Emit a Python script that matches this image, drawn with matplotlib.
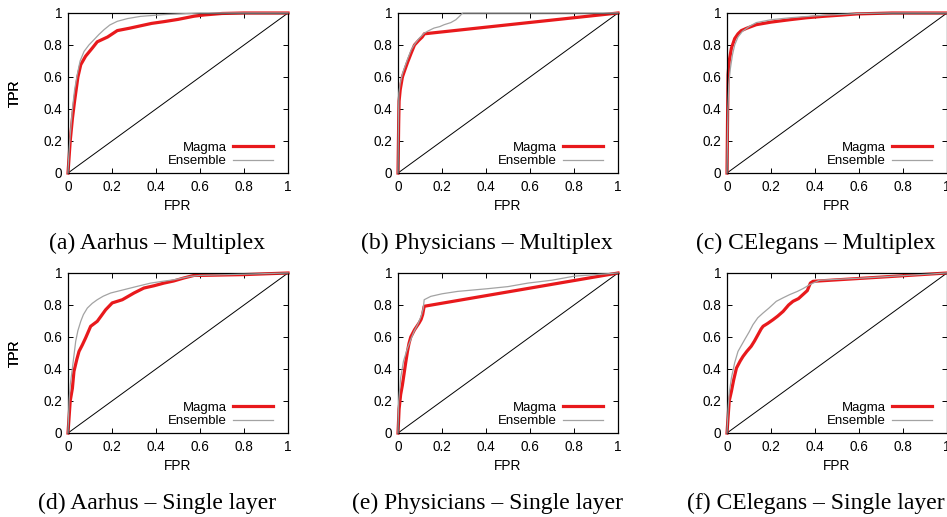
import matplotlib
matplotlib.use("Agg")
import matplotlib.pyplot as plt
from matplotlib.ticker import FuncFormatter

# ---------------- data ----------------
captions = ["(a) Aarhus \u2013 Multiplex", "(b) Physicians \u2013 Multiplex", "(c) CElegans \u2013 Multiplex",
            "(d) Aarhus \u2013 Single layer", "(e) Physicians \u2013 Single layer", "(f) CElegans \u2013 Single layer"]
series_names = ["Magma", "Ensemble"]
tick_values = [0, 0.2, 0.4, 0.6, 0.8, 1]

a_magma_fpr = [0, 0.005, 0.01, 0.02, 0.03, 0.045, 0.058, 0.08, 0.11, 0.133, 0.18, 0.224, 0.28, 0.33, 0.38, 0.436, 0.5, 0.573, 0.62, 0.7, 0.8, 1.0]
a_magma_tpr = [0, 0.1, 0.2, 0.34, 0.45, 0.6, 0.677, 0.73, 0.78, 0.82, 0.85, 0.89, 0.905, 0.92, 0.935, 0.946, 0.96, 0.98, 0.988, 0.997, 1.0, 1.0]
a_ens_fpr = [0, 0.004, 0.008, 0.02, 0.03, 0.042, 0.055, 0.073, 0.095, 0.118, 0.14, 0.164, 0.19, 0.224, 0.27, 0.33, 0.436, 0.5, 0.6, 1.0]
a_ens_tpr = [0, 0.12, 0.2, 0.4, 0.52, 0.615, 0.7, 0.76, 0.8, 0.833, 0.865, 0.896, 0.925, 0.948, 0.965, 0.979, 0.99, 0.994, 1.0, 1.0]

b_magma_fpr = [0, 0.003, 0.005, 0.01, 0.02, 0.03, 0.043, 0.06, 0.075, 0.095, 0.11, 0.12, 1.0]
b_magma_tpr = [0, 0.3, 0.45, 0.52, 0.6, 0.64, 0.69, 0.75, 0.8, 0.83, 0.85, 0.87, 1.0]
b_ens_fpr = [0, 0.002, 0.004, 0.01, 0.02, 0.03, 0.043, 0.06, 0.073, 0.095, 0.12, 0.14, 0.164, 0.19, 0.21, 0.24, 0.263, 0.28, 0.294, 1.0]
b_ens_tpr = [0, 0.3, 0.5, 0.56, 0.62, 0.66, 0.71, 0.77, 0.8, 0.84, 0.875, 0.89, 0.906, 0.915, 0.927, 0.94, 0.958, 0.98, 1.0, 1.0]

c_magma_fpr = [0, 0.003, 0.005, 0.01, 0.02, 0.035, 0.05, 0.065, 0.09, 0.133, 0.2, 0.285, 0.36, 0.436, 0.52, 0.588, 0.75, 1.0]
c_magma_tpr = [0, 0.4, 0.615, 0.7, 0.78, 0.84, 0.87, 0.89, 0.905, 0.927, 0.943, 0.958, 0.97, 0.979, 0.987, 0.994, 1.0, 1.0]
c_ens_fpr = [0, 0.004, 0.008, 0.015, 0.025, 0.035, 0.05, 0.07, 0.1, 0.133, 0.2, 0.285, 0.36, 0.436, 0.6, 0.75, 1.0]
c_ens_tpr = [0, 0.4, 0.55, 0.65, 0.74, 0.8, 0.85, 0.885, 0.915, 0.94, 0.958, 0.97, 0.978, 0.985, 0.997, 1.0, 1.0]

d_magma_fpr = [0, 0.005, 0.01, 0.02, 0.027, 0.04, 0.05, 0.065, 0.08, 0.103, 0.133, 0.15, 0.171, 0.201, 0.247, 0.3, 0.345, 0.39, 0.436, 0.48, 0.527, 0.573, 0.6, 0.8, 1.0]
d_magma_tpr = [0, 0.1, 0.2, 0.28, 0.385, 0.46, 0.51, 0.55, 0.594, 0.667, 0.698, 0.73, 0.77, 0.813, 0.833, 0.875, 0.906, 0.92, 0.937, 0.95, 0.969, 0.985, 0.985, 0.99, 1.0]
d_ens_fpr = [0, 0.005, 0.01, 0.02, 0.035, 0.045, 0.058, 0.07, 0.088, 0.11, 0.133, 0.16, 0.194, 0.255, 0.31, 0.376, 0.43, 0.482, 0.558, 0.6, 1.0]
d_ens_tpr = [0, 0.2, 0.3, 0.406, 0.573, 0.64, 0.698, 0.74, 0.781, 0.81, 0.833, 0.855, 0.875, 0.896, 0.915, 0.937, 0.948, 0.958, 0.979, 0.985, 1.0]

e_magma_fpr = [0, 0.005, 0.012, 0.02, 0.027, 0.035, 0.043, 0.05, 0.058, 0.075, 0.096, 0.105, 0.112, 0.119, 1.0]
e_magma_tpr = [0, 0.15, 0.24, 0.3, 0.365, 0.44, 0.51, 0.56, 0.6, 0.645, 0.688, 0.71, 0.74, 0.792, 1.0]
e_ens_fpr = [0, 0.003, 0.012, 0.025, 0.043, 0.06, 0.073, 0.09, 0.105, 0.115, 0.119, 0.149, 0.2, 0.271, 0.408, 0.5, 0.591, 0.7, 0.8, 0.9, 1.0]
e_ens_tpr = [0, 0.2, 0.344, 0.45, 0.53, 0.59, 0.635, 0.68, 0.73, 0.78, 0.833, 0.854, 0.87, 0.885, 0.902, 0.915, 0.937, 0.955, 0.98, 0.99, 1.0]

f_magma_fpr = [0, 0.005, 0.01, 0.02, 0.03, 0.043, 0.06, 0.073, 0.09, 0.11, 0.125, 0.141, 0.155, 0.164, 0.185, 0.209, 0.23, 0.255, 0.28, 0.3, 0.325, 0.345, 0.365, 0.379, 0.391, 1.0]
f_magma_tpr = [0, 0.1, 0.2, 0.26, 0.33, 0.406, 0.45, 0.479, 0.51, 0.542, 0.575, 0.615, 0.65, 0.667, 0.685, 0.708, 0.73, 0.76, 0.8, 0.823, 0.84, 0.865, 0.89, 0.937, 0.948, 1.0]
f_ens_fpr = [0, 0.005, 0.01, 0.02, 0.035, 0.05, 0.08, 0.1, 0.118, 0.14, 0.164, 0.19, 0.224, 0.255, 0.285, 0.32, 0.345, 0.376, 0.42, 0.6, 1.0]
f_ens_tpr = [0, 0.15, 0.25, 0.344, 0.44, 0.51, 0.583, 0.63, 0.677, 0.72, 0.75, 0.78, 0.823, 0.845, 0.865, 0.885, 0.902, 0.927, 0.955, 0.967, 1.0]

panels = [
    (a_magma_fpr, a_magma_tpr, a_ens_fpr, a_ens_tpr),
    (b_magma_fpr, b_magma_tpr, b_ens_fpr, b_ens_tpr),
    (c_magma_fpr, c_magma_tpr, c_ens_fpr, c_ens_tpr),
    (d_magma_fpr, d_magma_tpr, d_ens_fpr, d_ens_tpr),
    (e_magma_fpr, e_magma_tpr, e_ens_fpr, e_ens_tpr),
    (f_magma_fpr, f_magma_tpr, f_ens_fpr, f_ens_tpr),
]

# ---------------- style ----------------
W, H = 947, 517
RED = "#e8191c"
GRAY = "#a3a3a3"
SANS = "Liberation Sans"
SERIF = "Liberation Serif"

fig = plt.figure(figsize=(W / 100, H / 100), dpi=100)

lefts = [68, 398, 727]
tops = [13, 273]
aw, ah = 220, 160

for i, (mf, mt, ef, et) in enumerate(panels):
    r, c = divmod(i, 3)
    left = lefts[c]
    top = tops[r]
    ax = fig.add_axes([left / W, (H - top - ah) / H, aw / W, ah / H])
    ax.plot([0, 1], [0, 1], color="black", lw=0.7, zorder=1)
    ax.plot(mf, mt, color=RED, lw=2.3, label=series_names[0], zorder=2, clip_on=False,
            solid_joinstyle="round")
    ax.plot(ef, et, color=GRAY, lw=0.9, label=series_names[1], zorder=3, clip_on=False)
    ax.set_xlim(0, 1)
    ax.set_ylim(0, 1)
    ax.set_xticks(tick_values)
    ax.set_yticks(tick_values)
    fmt = FuncFormatter(lambda v, p: "%g" % v)
    ax.xaxis.set_major_formatter(fmt)
    ax.yaxis.set_major_formatter(fmt)
    ax.tick_params(direction="in", length=3.5, width=0.7, top=True, right=True,
                   labelsize=9.8, pad=5, colors="black")
    ax.tick_params(axis="y", pad=4)
    for lab in ax.get_xticklabels() + ax.get_yticklabels():
        lab.set_fontfamily(SANS)
    for sp in ax.spines.values():
        sp.set_linewidth(0.9)
    ax.set_xlabel("FPR", fontsize=9.8, fontfamily=SANS)
    ax.set_ylabel("TPR", fontsize=9.8, fontfamily=SANS)
    ax.xaxis.set_label_coords(0.5, -(205.5 - 173) / ah)
    ax.xaxis.label.set_verticalalignment("center")
    ax.yaxis.set_label_coords(-(left - 15) / aw, 0.5)
    ax.yaxis.label.set_verticalalignment("center")
    ax.legend(loc="lower right", bbox_to_anchor=(0.932, 0.035), frameon=False,
              markerfirst=False, handlelength=3.0, handletextpad=0.5,
              labelspacing=0.12, borderpad=0, borderaxespad=0,
              prop={"family": SANS, "size": 9.5})
    cx = left + aw / 2 - 21
    cy = 249 if r == 0 else 509
    fig.text(cx / W, (H - cy) / H, captions[i], ha="center", va="baseline",
             fontsize=17, fontfamily=SERIF)

fig.savefig("out.png", dpi=100)
